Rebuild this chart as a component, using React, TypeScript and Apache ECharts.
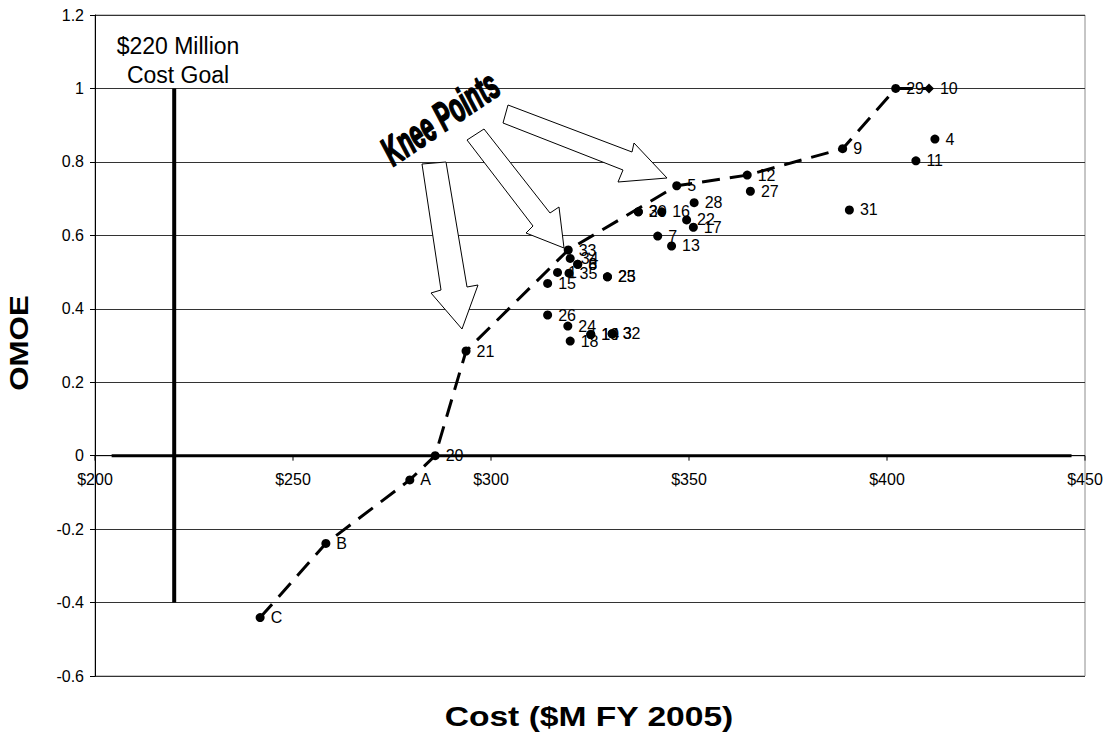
import React, { useEffect, useRef } from "react";
import * as echarts from "echarts";

// Efficient frontier (dashed line) designs
const frontierLabels = ["C", "B", "A", "20", "21", "33", "5", "12", "9", "29", "10"];
const frontierCost = [241.7, 258.3, 279.5, 285.9, 293.7, 319.5, 346.9, 364.7, 388.8, 402.2, 410.6];
const frontierOmoe = [-0.441, -0.239, -0.066, 0.0, 0.285, 0.56, 0.735, 0.764, 0.836, 1.0, 1.0];

// Other (dominated) designs
const otherLabels = ["2", "30", "16", "22", "17", "7", "13", "28", "27", "31", "11", "4", "34", "8", "6", "1", "35", "23", "25", "15", "26", "24", "18", "19", "14", "32", "3"];
const otherCost = [337.2, 337.2, 343.1, 349.4, 351.1, 342.1, 345.6, 351.3, 365.5, 390.5, 407.3, 412.1, 320.0, 321.9, 321.9, 316.8, 319.7, 329.4, 329.4, 314.3, 314.3, 319.4, 320.0, 325.2, 325.2, 330.6, 330.6];
const otherOmoe = [0.664, 0.664, 0.664, 0.642, 0.622, 0.598, 0.571, 0.689, 0.72, 0.669, 0.803, 0.862, 0.537, 0.521, 0.521, 0.499, 0.497, 0.487, 0.487, 0.469, 0.383, 0.353, 0.312, 0.33, 0.33, 0.332, 0.332];

// Reference lines
const goalCost = 220;
const goalOmoeRange = [-0.4, 1.0];
const zeroLineCost = [204.2, 446.6];

// Axes
const xMin = 200;
const xMax = 450;
const xStep = 50;
const xTickValues = [200, 250, 300, 350, 400, 450];
const yMin = -0.6;
const yMax = 1.2;
const yStep = 0.2;

const FONT = "Liberation Sans, Arial, Helvetica, sans-serif";

export default function App() {
  const ref = useRef<HTMLDivElement>(null);

  useEffect(() => {
    if (!ref.current) return;
    const chart = echarts.init(ref.current, undefined, { renderer: "svg" });

    const labelStyle = {
      show: true,
      position: "right" as const,
      distance: 6,
      formatter: (p: any) => p.data.name,
      color: "#000",
      fontSize: 16,
      fontFamily: FONT,
    };

    const frontierData = frontierLabels.map((n, i) => ({
      name: n,
      value: [frontierCost[i], frontierOmoe[i]],
      ...(n === "10" ? { symbol: "diamond", symbolSize: 10 } : {}),
    }));
    const otherData = otherLabels.map((n, i) => ({
      name: n,
      value: [otherCost[i], otherOmoe[i]],
    }));

    const arrowStyle = { fill: "#fff", stroke: "#000", lineWidth: 1 };

    chart.setOption({
      animation: false,
      backgroundColor: "#fff",
      grid: {
        left: 95,
        top: 15,
        right: 22,
        bottom: 62,
        containLabel: false,
        outerBoundsMode: "none",
        show: true,
        borderColor: "#8c8c8c",
        borderWidth: 1,
        backgroundColor: "transparent",
      },
      xAxis: {
        type: "value",
        min: xMin,
        max: xMax,
        interval: xStep,
        axisLine: { show: false },
        axisTick: { show: false },
        axisLabel: { show: false },
        splitLine: { show: false },
      },
      yAxis: {
        type: "value",
        min: yMin,
        max: yMax,
        interval: yStep,
        axisLine: { show: true, onZero: false, lineStyle: { color: "#000", width: 1 } },
        axisTick: { show: true, length: 5, lineStyle: { color: "#000" } },
        axisLabel: {
          color: "#000",
          fontSize: 16,
          fontFamily: FONT,
          margin: 11,
          formatter: (v: number) => String(Math.round(v * 10) / 10),
        },
        splitLine: { show: true, lineStyle: { color: "#333", width: 1 } },
      },
      series: [
        {
          type: "line",
          name: "xAxisLine",
          data: [
            [xMin, 0],
            [xMax, 0],
          ],
          symbol: "none",
          silent: true,
          lineStyle: { color: "#000", width: 1 },
          z: 2,
        },
        {
          type: "custom",
          name: "xTicks",
          data: xTickValues.map((v) => [v, 0]),
          silent: true,
          clip: false,
          z: 4,
          renderItem: (_params: any, api: any) => {
            const v = api.value(0);
            const p = api.coord([v, api.value(1)]);
            return {
              type: "group",
              children: [
                {
                  type: "line",
                  shape: { x1: p[0], y1: p[1], x2: p[0], y2: p[1] + 5 },
                  style: { stroke: "#000", lineWidth: 1 },
                },
                {
                  type: "text",
                  x: p[0],
                  y: p[1] + 24,
                  style: {
                    text: "$" + v,
                    align: "center",
                    verticalAlign: "middle",
                    fontSize: 16,
                    fontFamily: FONT,
                    fill: "#000",
                  },
                },
              ],
            };
          },
        },
        {
          type: "line",
          name: "zero",
          data: [
            [zeroLineCost[0], 0],
            [zeroLineCost[1], 0],
          ],
          symbol: "none",
          silent: true,
          lineStyle: { color: "#000", width: 3 },
          z: 3,
        },
        {
          type: "line",
          name: "goal",
          data: [
            [goalCost, goalOmoeRange[0]],
            [goalCost, goalOmoeRange[1]],
          ],
          symbol: "none",
          silent: true,
          lineStyle: { color: "#000", width: 4 },
          z: 3,
        },
        {
          type: "line",
          name: "frontier",
          data: frontierData,
          symbol: "circle",
          symbolSize: 9,
          itemStyle: { color: "#000", opacity: 1 },
          lineStyle: { color: "#000", width: 3, type: [18, 10] },
          label: labelStyle,
          z: 5,
        },
        {
          type: "scatter",
          name: "designs",
          data: otherData,
          symbol: "circle",
          symbolSize: 9,
          itemStyle: { color: "#000", opacity: 1 },
          label: labelStyle,
          z: 5,
        },
      ],
      graphic: [
        {
          type: "text",
          x: 178,
          y: 60,
          style: {
            text: "$220 Million\nCost Goal",
            fontSize: 23,
            lineHeight: 29,
            fontFamily: FONT,
            fill: "#000",
            align: "center",
            verticalAlign: "middle",
          },
          z: 10,
        },
        {
          type: "text",
          x: 589,
          y: 716,
          scaleX: 1.2,
          style: {
            text: "Cost ($M FY 2005)",
            fontSize: 28,
            fontWeight: "bold",
            fontFamily: FONT,
            fill: "#000",
            align: "center",
            verticalAlign: "middle",
          },
        },
        {
          type: "text",
          x: 19,
          y: 343,
          rotation: Math.PI / 2,
          scaleX: 1.25,
          style: {
            text: "OMOE",
            fontSize: 25,
            fontWeight: "bold",
            fontFamily: FONT,
            fill: "#000",
            align: "center",
            verticalAlign: "middle",
          },
        },
        {
          type: "polygon",
          shape: {
            points: [
              [422, 164],
              [446, 162],
              [467, 287],
              [478, 285],
              [462, 329],
              [431, 293],
              [441, 290],
            ],
          },
          style: arrowStyle,
          z: 10,
        },
        {
          type: "polygon",
          shape: {
            points: [
              [467, 140],
              [484, 129],
              [550, 213],
              [559, 207],
              [564, 248],
              [526, 233],
              [533, 226],
            ],
          },
          style: arrowStyle,
          z: 10,
        },
        {
          type: "polygon",
          shape: {
            points: [
              [508, 105],
              [632, 152],
              [634, 143],
              [667, 178],
              [618, 182],
              [623, 170],
              [503, 123],
            ],
          },
          style: arrowStyle,
          z: 10,
        },
        {
          type: "text",
          x: 440,
          y: 118,
          rotation: (34 * Math.PI) / 180,
          scaleX: 0.82,
          scaleY: 1.45,
          style: {
            text: "Knee Points",
            fontSize: 28,
            fontWeight: "bold",
            fontStyle: "italic",
            fontFamily: FONT,
            fill: "#000",
            stroke: "#000",
            lineWidth: 1.2,
            align: "center",
            verticalAlign: "middle",
          },
          z: 11,
        },
      ],
    });

    return () => chart.dispose();
  }, []);

  return (
    <div
      ref={ref}
      style={{ position: "absolute", left: 0, top: 0, width: 1107, height: 738, background: "#fff" }}
    />
  );
}
